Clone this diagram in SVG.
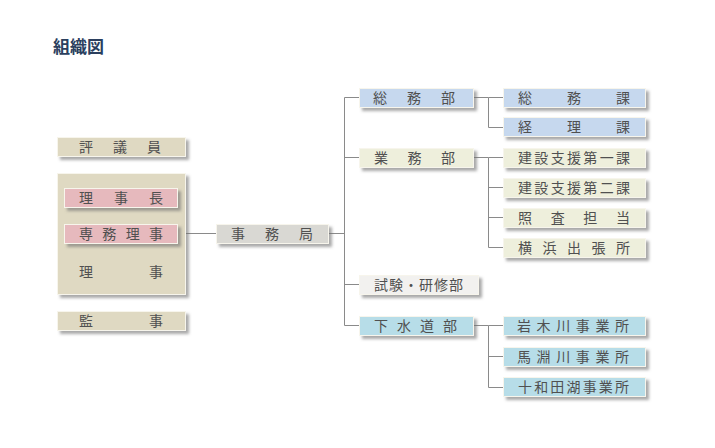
<svg xmlns="http://www.w3.org/2000/svg" width="715" height="448" viewBox="0 0 715 448">
<defs>
<filter id="sh" x="-10%" y="-30%" width="130%" height="190%">
<feDropShadow dx="3" dy="3" stdDeviation="1.6" flood-color="#6f6f6f" flood-opacity="0.6"/>
</filter>
<style>
.b{stroke:#f7f5ec;stroke-width:1;filter:url(#sh)}
.beige{fill:#dfd9c2}
.pink{fill:#e6b9bd}
.gray{fill:#d9d8d3}
.blue{fill:#c6d8ee}
.cream{fill:#eeefdc}
.white{fill:#f2f1ef}
.aqua{fill:#b7dde8}
.t{font-family:"Noto Sans CJK JP","Noto Sans",sans-serif;font-size:14px;fill:#505050}
.c{fill:none;stroke:#8a8a8a;stroke-width:1}
</style>
</defs>
<rect width="715" height="448" fill="#ffffff"/>
<text x="53" y="53" font-family="Noto Sans CJK JP, sans-serif" font-size="17" font-weight="bold" fill="#2b3f5e">組織図</text>

<g id="connectors" class="c">
<path d="M186,233.5H216"/>
<path d="M329,233.5H344.5M344.5,97.5V325.5M344.5,97.5H359M344.5,157.5H359M344.5,284.5H359M344.5,325.5H359"/>
<path d="M474,97.5H488.5M488.5,97.5V127.5M488.5,97.5H503M488.5,127.5H503"/>
<path d="M474,157.5H488.5M488.5,157.5V247.5M488.5,157.5H503M488.5,187.5H503M488.5,217.5H503M488.5,247.5H503"/>
<path d="M474,325.5H488.5M488.5,325.5V387.5M488.5,325.5H503M488.5,356.5H503M488.5,387.5H503"/>
</g>

<g id="hyogiin"><rect class="b beige" x="57.5" y="137.5" width="128" height="19"/><text class="t" x="79" y="152" textLength="82" lengthAdjust="spacing">評議員</text></g>
<g id="yakuin"><rect class="b beige" x="57.5" y="173.5" width="128" height="121"/>
<text class="t" x="79" y="277" textLength="84" lengthAdjust="spacing">理事</text></g>
<g id="rijicho"><rect class="b pink" x="64.5" y="188.5" width="113" height="19"/><text class="t" x="79" y="203" textLength="84" lengthAdjust="spacing">理事長</text></g>
<g id="senmuriji"><rect class="b pink" x="64.5" y="224.5" width="113" height="19"/><text class="t" x="79" y="239" textLength="84" lengthAdjust="spacing">専務理事</text></g>
<g id="kanji"><rect class="b beige" x="57.5" y="311.5" width="128" height="19"/><text class="t" x="79" y="326" textLength="84" lengthAdjust="spacing">監事</text></g>
<g id="jimukyoku"><rect class="b gray" x="216.5" y="224.5" width="112" height="19"/><text class="t" x="231" y="239" textLength="82" lengthAdjust="spacing">事務局</text></g>

<g id="somubu"><rect class="b blue" x="359.5" y="88.5" width="114" height="19"/><text class="t" x="373" y="103" textLength="82" lengthAdjust="spacing">総務部</text></g>
<g id="gyomubu"><rect class="b cream" x="359.5" y="148.5" width="114" height="19"/><text class="t" x="374" y="163" textLength="81" lengthAdjust="spacing">業務部</text></g>
<g id="shiken"><rect class="b white" x="359.5" y="275.5" width="119" height="19"/><text class="t" x="374" y="290" textLength="89" lengthAdjust="spacing">試験・研修部</text></g>
<g id="gesuido"><rect class="b aqua" x="359.5" y="316.5" width="114" height="19"/><text class="t" x="374" y="331" textLength="83" lengthAdjust="spacing">下水道部</text></g>

<g id="somuka"><rect class="b blue" x="503.5" y="88.5" width="142" height="19"/><text class="t" x="518" y="103" textLength="112" lengthAdjust="spacing">総務課</text></g>
<g id="keirika"><rect class="b blue" x="503.5" y="117.5" width="142" height="19"/><text class="t" x="518" y="132" textLength="112" lengthAdjust="spacing">経理課</text></g>
<g id="kensetsu1"><rect class="b cream" x="503.5" y="148.5" width="142" height="19"/><text class="t" x="518" y="163" textLength="112" lengthAdjust="spacing">建設支援第一課</text></g>
<g id="kensetsu2"><rect class="b cream" x="503.5" y="178.5" width="142" height="19"/><text class="t" x="518" y="193" textLength="112" lengthAdjust="spacing">建設支援第二課</text></g>
<g id="shosa"><rect class="b cream" x="503.5" y="208.5" width="142" height="19"/><text class="t" x="518" y="223" textLength="112" lengthAdjust="spacing">照査担当</text></g>
<g id="yokohama"><rect class="b cream" x="503.5" y="238.5" width="142" height="19"/><text class="t" x="518" y="253" textLength="112" lengthAdjust="spacing">横浜出張所</text></g>
<g id="iwakigawa"><rect class="b aqua" x="503.5" y="316.5" width="142" height="19"/><text class="t" x="517" y="331" textLength="112" lengthAdjust="spacing">岩木川事業所</text></g>
<g id="mabuchigawa"><rect class="b aqua" x="503.5" y="347.5" width="142" height="19"/><text class="t" x="517" y="362" textLength="112" lengthAdjust="spacing">馬淵川事業所</text></g>
<g id="towadako"><rect class="b aqua" x="503.5" y="377.5" width="142" height="19"/><text class="t" x="518" y="392" textLength="111" lengthAdjust="spacing">十和田湖事業所</text></g>
</svg>
